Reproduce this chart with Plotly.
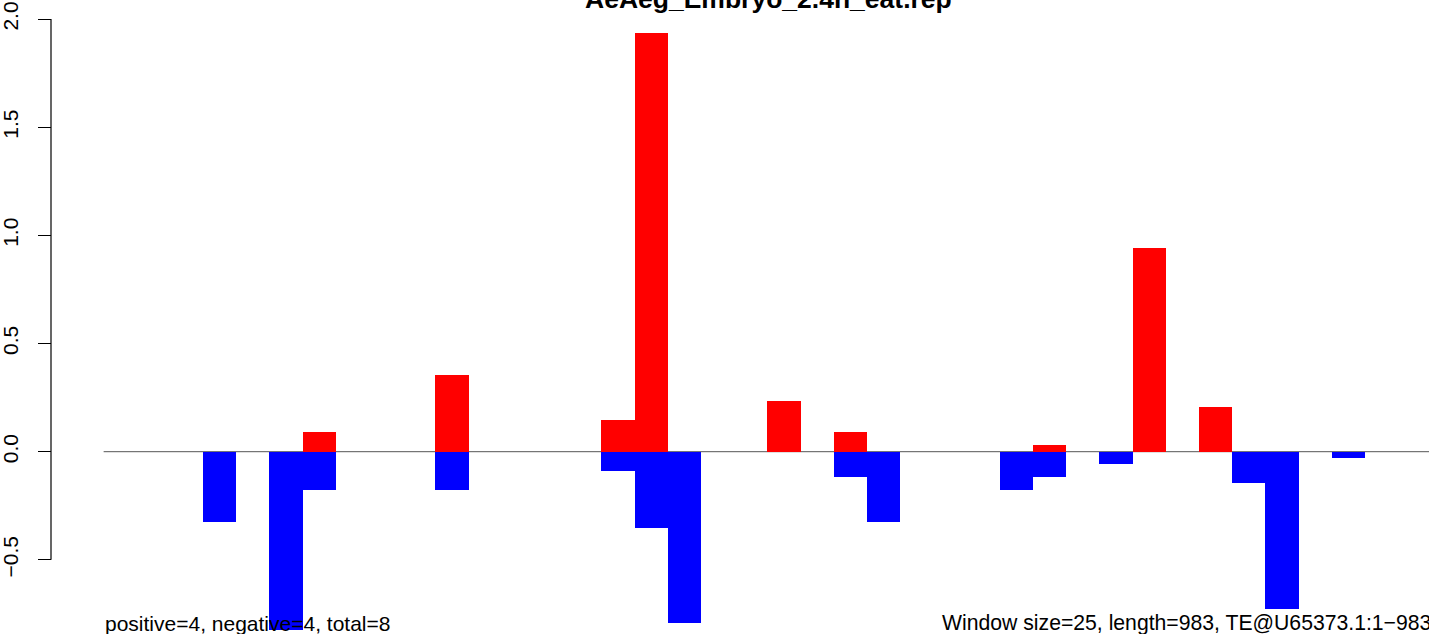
import plotly.graph_objects as go

title_text = "AeAeg_Embryo_2.4h_eat.rep"
left_note = "positive=4, negative=4, total=8"
right_note = "Window size=25, length=983, TE@U65373.1:1\u2212983"

n_windows = 40
pos_windows = [6, 10, 15, 16, 20, 22, 28, 31, 33]
pos_values = [0.091, 0.355, 0.147, 1.938, 0.234, 0.091, 0.031, 0.940, 0.207]
neg_windows = [3, 5, 6, 10, 15, 16, 17, 22, 23, 27, 28, 30, 34, 35, 37]
neg_values = [-0.325, -0.824, -0.177, -0.177, -0.089, -0.351, -0.790, -0.117,
              -0.325, -0.177, -0.117, -0.057, -0.145, -0.729, -0.029]

ytick_vals = [-0.5, 0.0, 0.5, 1.0, 1.5, 2.0]
ytick_text = ["\u22120.5", "0.0", "0.5", "1.0", "1.5", "2.0"]

W, H = 1429, 634
axis_px = 51
plot_left_px = 103.4
px_per_window = 33.2
zero_px = 451.7
px_per_unit = 216.3

fig = go.Figure()
fig.add_trace(go.Bar(x=[w + 0.5 for w in pos_windows], y=pos_values, width=1,
                     marker=dict(color="#FF0000", line=dict(width=0)), showlegend=False,
                     hoverinfo="skip"))
fig.add_trace(go.Bar(x=[w + 0.5 for w in neg_windows], y=neg_values, width=1,
                     marker=dict(color="#0000FF", line=dict(width=0)), showlegend=False,
                     hoverinfo="skip"))

plot_w = W - axis_px
x_dom0 = (plot_left_px - axis_px) / plot_w
x_max = (W - plot_left_px) / px_per_window
y_top = zero_px / px_per_unit
y_bot = -(H - zero_px) / px_per_unit

font_family = "Liberation Sans, Arial, Helvetica, sans-serif"
base_size = 21

fig.update_layout(
    width=W, height=H,
    margin=dict(l=axis_px, r=0, t=0, b=0, pad=0),
    paper_bgcolor="white", plot_bgcolor="white",
    barmode="overlay", bargap=0,
    font=dict(family=font_family, size=base_size, color="black"),
    xaxis=dict(domain=[x_dom0, 1], range=[0, x_max], visible=False, fixedrange=True),
    yaxis=dict(range=[y_bot, y_top], anchor="free", position=0, fixedrange=True,
               showline=False, showgrid=False, zeroline=False,
               ticks="outside", ticklen=13, tickwidth=1.2, tickcolor="black",
               tickvals=ytick_vals, ticktext=ytick_text, tickangle=-90,
               ticklabelstandoff=12,
               tickfont=dict(family=font_family, size=base_size, color="black")),
    shapes=[
        dict(type="line", xref="paper", yref="y", x0=0, x1=0, y0=-0.5, y1=2.0,
             line=dict(color="black", width=1.2), layer="above"),
        dict(type="line", xref="x", yref="y", x0=0, x1=x_max, y0=0, y1=0,
             line=dict(color="#555555", width=1), layer="below"),
    ],
    annotations=[
        dict(text="<b>" + title_text + "</b>", xref="paper", yref="paper",
             x=(768 - axis_px) / plot_w, y=1, xanchor="center", yanchor="bottom",
             yshift=-16, showarrow=False,
             font=dict(family=font_family, size=26.5, color="black")),
        dict(text=left_note, xref="paper", yref="paper",
             x=(plot_left_px - axis_px) / plot_w, y=0, xanchor="left", yanchor="bottom",
             yshift=-3, showarrow=False,
             font=dict(family=font_family, size=base_size, color="black")),
        dict(text=right_note, xref="paper", yref="paper",
             x=(940 - axis_px) / plot_w, y=0, xanchor="left", yanchor="bottom",
             yshift=-3, showarrow=False,
             font=dict(family=font_family, size=21.2, color="black")),
    ],
)

fig.write_html("out.html", config={"displayModeBar": False, "staticPlot": True},
               post_script="document.body.style.margin='0';document.body.style.padding='0';")
